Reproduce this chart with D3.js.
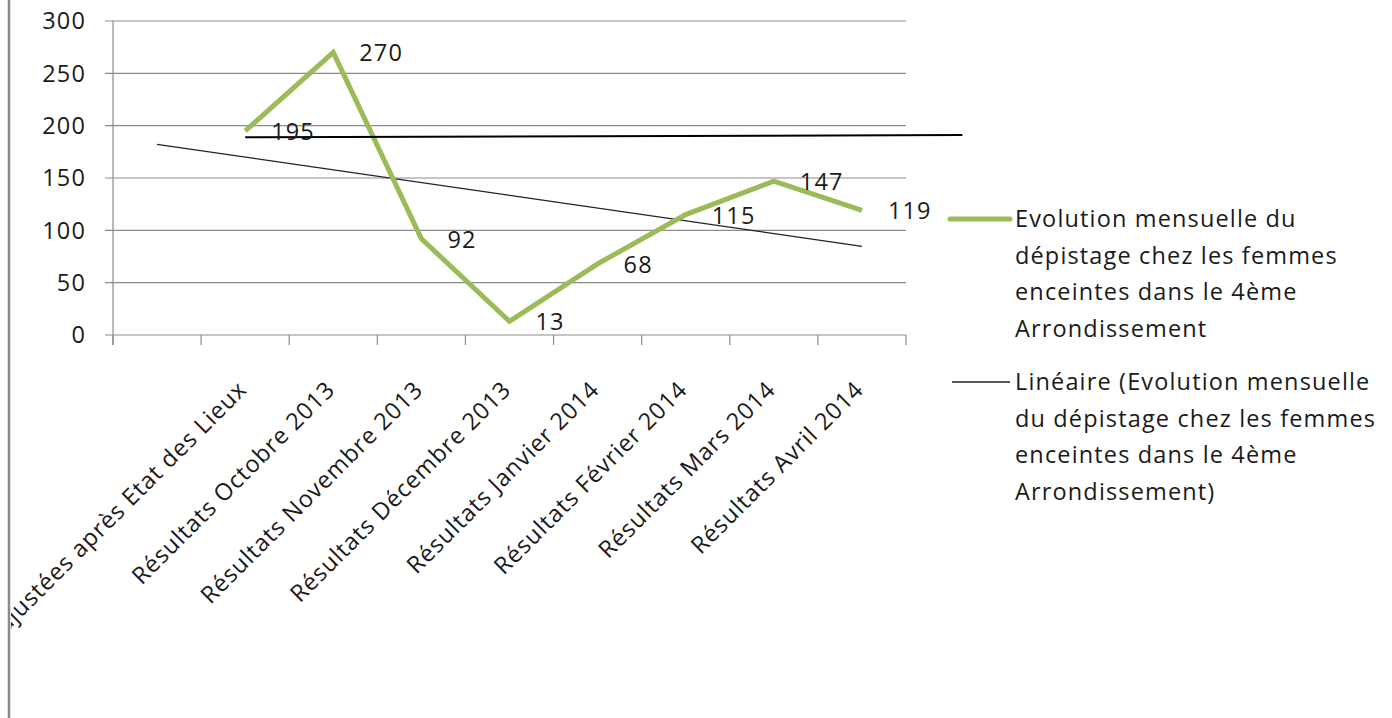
<!DOCTYPE html>
<html><head><meta charset="utf-8">
<script src="https://cdn.jsdelivr.net/npm/d3@7"></script>
<style>body{margin:0;background:#fff}svg{display:block}text{font-family:"Open Sans",Lato,sans-serif;fill:#1a1a1a;letter-spacing:1.15px}text.xl{letter-spacing:0.9px}</style>
</head><body><svg id="c" width="1392" height="718"></svg>
<script>
const categories = ["", "ajustées après Etat des Lieux", "Résultats Octobre 2013", "Résultats Novembre 2013", "Résultats Décembre 2013", "Résultats Janvier 2014", "Résultats Février 2014", "Résultats Mars 2014", "Résultats Avril 2014"];
const values = [null, 195, 270, 92, 13, 68, 115, 147, 119];
const yTicks = [0, 50, 100, 150, 200, 250, 300];
const seriesName = ["Evolution mensuelle du", "dépistage chez les femmes", "enceintes dans le 4ème", "Arrondissement"];
const trendName = ["Linéaire (Evolution mensuelle", "du dépistage chez les femmes", "enceintes dans le 4ème", "Arrondissement)"];
// stray drawn line (index positions on the category axis, value)
const strayLine = [[1, 189], [9.14, 191]];

const svg = d3.select("#c");
const L = 113, R = 906, T = 21, B = 335;
const n = categories.length;
const FS = 23.5;
const xi = d3.scaleLinear().domain([-0.5, n - 0.5]).range([L, R]);
const y = d3.scaleLinear().domain([0, 300]).range([B, T]);
const green = "#9BBB59", grid = "#8c8c8c";

// left frame line
svg.append("line").attr("x1", 9).attr("x2", 9).attr("y1", 0).attr("y2", 718).attr("stroke", "#8a8a8a").attr("stroke-width", 2.5);

// gridlines
svg.append("g").selectAll("line").data(yTicks).join("line")
  .attr("x1", L - 8).attr("x2", R).attr("y1", d => y(d)).attr("y2", d => y(d))
  .attr("stroke", grid).attr("stroke-width", 1.2);
// y axis line
svg.append("line").attr("x1", L).attr("x2", L).attr("y1", T).attr("y2", B + 10).attr("stroke", grid).attr("stroke-width", 1.2);
// x ticks
svg.append("g").selectAll("line").data(d3.range(n + 1)).join("line")
  .attr("x1", d => xi(d - 0.5)).attr("x2", d => xi(d - 0.5)).attr("y1", B).attr("y2", B + 10)
  .attr("stroke", grid).attr("stroke-width", 1.2);
// y labels
svg.append("g").selectAll("text").data(yTicks).join("text")
  .attr("x", L - 27).attr("y", d => y(d)).attr("dy", "0.36em").attr("text-anchor", "end")
  .attr("font-size", FS).text(d => d);

// x labels (clipped by frame)
svg.append("clipPath").attr("id", "clp").append("rect").attr("x", 11).attr("y", 0).attr("width", 1392).attr("height", 718);
svg.append("g").attr("clip-path", "url(#clp)").selectAll("text").data(categories).join("text")
  .attr("class", "xl")
  .attr("transform", (d, i) => `translate(${xi(i) + 3},${B + 56}) rotate(-45)`)
  .attr("text-anchor", "end").attr("font-size", FS).text(d => d);

// linear trend computed from the data
const pts = values.map((v, i) => [i, v]).filter(p => p[1] != null);
const mx = d3.mean(pts, p => p[0]), my = d3.mean(pts, p => p[1]);
const slope = d3.sum(pts, p => (p[0] - mx) * (p[1] - my)) / d3.sum(pts, p => (p[0] - mx) ** 2);
const trend = [0, n - 1].map(i => [i, my + slope * (i - mx)]);
const line = d3.line().x(d => xi(d[0])).y(d => y(d[1]));
svg.append("path").attr("d", line(trend)).attr("fill", "none").attr("stroke", "#222").attr("stroke-width", 1.3);

// series
svg.append("path").attr("d", line(pts)).attr("fill", "none").attr("stroke", green).attr("stroke-width", 5).attr("stroke-linejoin", "miter");

// stray line
svg.append("path").attr("d", line(strayLine)).attr("fill", "none").attr("stroke", "#000").attr("stroke-width", 2);

// data labels
svg.append("g").selectAll("text").data(pts).join("text")
  .attr("x", d => xi(d[0]) + 26).attr("y", d => y(d[1])).attr("dy", "0.38em")
  .attr("font-size", FS).text(d => d[1]);

// legend
const lg = svg.append("g");
lg.append("line").attr("x1", 950).attr("x2", 1010).attr("y1", 219).attr("y2", 219).attr("stroke", green).attr("stroke-width", 5).attr("stroke-linecap", "round");
lg.append("text").attr("x", 1015).attr("y", 219).attr("font-size", FS).selectAll("tspan").data(seriesName).join("tspan")
  .attr("x", 1015).attr("dy", (d, i) => i ? 36.5 : 8).text(d => d);
lg.append("line").attr("x1", 952).attr("x2", 1010).attr("y1", 382).attr("y2", 382).attr("stroke", "#222").attr("stroke-width", 1.3);
lg.append("text").attr("x", 1015).attr("y", 382).attr("font-size", FS).selectAll("tspan").data(trendName).join("tspan")
  .attr("x", 1015).attr("dy", (d, i) => i ? 36.5 : 8).text(d => d);
</script></body></html>
